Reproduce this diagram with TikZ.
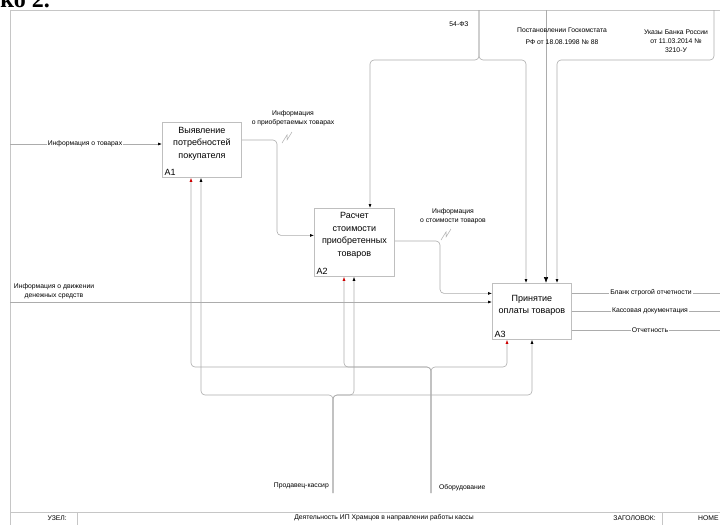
\documentclass[tikz,border=0pt]{standalone}
\usepackage{fontspec}
\setmainfont{Liberation Sans}
\newfontfamily\headfont{Liberation Serif}
\usetikzlibrary{arrows.meta,positioning}

\tikzset{
  frm/.style={draw=gray!45, line width=0.7pt},
  fbox/.style={draw=gray!50, line width=0.8pt, minimum width=79pt, minimum height=55pt, inner sep=0pt, anchor=north west},
  ftxt/.style={font=\fontsize{9}{12.5}\selectfont, align=center, inner sep=0pt},
  fnum/.style={font=\fontsize{9}{10}\selectfont, anchor=south west, inner sep=2.5pt},
  lbl/.style={font=\fontsize{6.8}{9}\selectfont, align=center, inner sep=1pt},
  onln/.style={lbl, fill=white},
  ln/.style={draw=gray!65, line width=0.6pt, rounded corners=4pt},
  arr/.style={ln, -{Latex[length=4pt,width=3pt,color=black]}},
  rarr/.style={ln, -{Latex[length=4pt,width=3pt,color=red!80!black]}},
  bigtip/.style={ln, -{Latex[length=6pt,width=4.5pt,color=black]}},
  squig/.style={draw=gray!65, line width=0.5pt},
}

\begin{document}
\begin{tikzpicture}[x=1pt, y=-1pt]
\useasboundingbox (0,0) rectangle (720,525);
% page frame and footer
\draw[frm] (720,10) -- (10,10) -- (10,525);
\draw[frm] (10,512) -- (720,512);
\draw[frm] (77,512) -- (77,525);
\draw[frm] (662,512) -- (662,525);
\node[font=\headfont\bfseries\fontsize{24}{24}\selectfont, anchor=base east, inner sep=0pt] (hd) at (50,7) {ко 2.};

% functions
\node[fbox] (A1) at (162,122) {};
\node[fbox, minimum width=80pt, minimum height=68pt] (A2) at (314,208) {};
\node[fbox, minimum height=56pt] (A3) at (492,283) {};
\node[ftxt] (t1) at ([yshift=6.5pt]A1.center) {Выявление\\потребностей\\покупателя};
\node[ftxt] (t2) at ([yshift=7pt]A2.center) {Расчет\\стоимости\\приобретенных\\товаров};
\node[ftxt] (t3) at ([yshift=6pt]A3.center) {Принятие\\оплаты товаров};
\node[fnum] (n1) at (A1.south west) {A1};
\node[fnum] (n2) at (A2.south west) {A2};
\node[fnum] (n3) at (A3.south west) {A3};

% inputs
\coordinate (i1) at (10,144);
\coordinate (i2) at (10,302);
\draw[arr] (i1) -- (A1.west |- i1);
\draw[arr] (i2) -- (A3.west |- i2);
\coordinate (k1) at (277,140);
\draw[arr] (A1.east |- k1) -- (k1) |- ([yshift=7pt]A2.west);
\coordinate (k2) at (440,241);
\draw[arr] (A2.east |- k2) -- (k2) |- ([yshift=18pt]A3.west);
\draw[squig] (282,143) -- (287,135) -- (287,140) -- (292,132);
\draw[squig] (441,240) -- (446,232) -- (446,237) -- (451,229);

% controls
\coordinate (c1) at (479,10);
\coordinate (c1l) at (370,60);
\coordinate (c1r) at (526,60);
\draw[arr] (c1) |- (c1l) -- (c1l |- A2.north);
\draw[arr] (c1) |- (c1r) -- (c1r |- A3.north);
\coordinate (c2) at (546,10);
\draw[bigtip] (c2) -- (c2 |- A3.north);
\coordinate (c3) at (714,10);
\coordinate (c3l) at (557,60);
\draw[arr] (c3) |- (c3l) -- (c3l |- A3.north);

% outputs
\foreach \yy/\nm in {293/o1, 311/o2, 330/o3} {
  \coordinate (\nm) at (720,\yy);
  \draw[ln] (A3.east |- \nm) -- (\nm);
}

% mechanisms
\coordinate (m1) at (431,493);
\coordinate (m2) at (333,493);
\foreach \xx/\bx in {191/A1, 344/A2, 507/A3} {
  \coordinate (mb) at (\xx,367);
  \draw[rarr] (m1) |- (mb) -- (mb |- \bx.south);
}
\foreach \xx/\bx in {201/A1, 354/A2, 532/A3} {
  \coordinate (mb) at (\xx,395);
  \draw[arr] (m2) |- (mb) -- (mb |- \bx.south);
}

% labels
\node[onln] (li1) at (85,144) {Информация о товарах};
\node[lbl] (li2) at (54,291) {Информация о движении\\денежных средств};
\node[lbl] (l12) at (293,118) {Информация\\о приобретаемых товарах};
\node[lbl] (l23) at (453,216.5) {Информация\\о стоимости товаров};
\node[lbl] (lc1) at (459,24) {54-ФЗ};
\node[lbl] (lc2) at (562,36) {Постановлении Госкомстата\\[3pt]РФ от 18.08.1998 № 88};
\node[lbl] (lc3) at (676,41.5) {Указы Банка России\\от 11.03.2014 №\\3210-У};
\node[onln] (lo1) at (651,293) {Бланк строгой отчетности};
\node[onln] (lo2) at (650,311) {Кассовая документация};
\node[onln] (lo3) at (650,330) {Отчетность};
\node[lbl, anchor=west] (lm1) at (438,488) {Оборудование};
\node[lbl, anchor=east] (lm2) at (330,486) {Продавец-кассир};

% footer texts
\node[lbl, anchor=east] (fu) at (68,518) {УЗЕЛ:};
\node[lbl] (ft) at (384,518) {Деятельность ИП Храмцов в направлении работы кассы};
\node[lbl, anchor=east] (fz) at (657,518) {ЗАГОЛОВОК:};
\node[lbl, anchor=west] (fn) at (697,518) {НОМЕ};
\end{tikzpicture}
\end{document}
